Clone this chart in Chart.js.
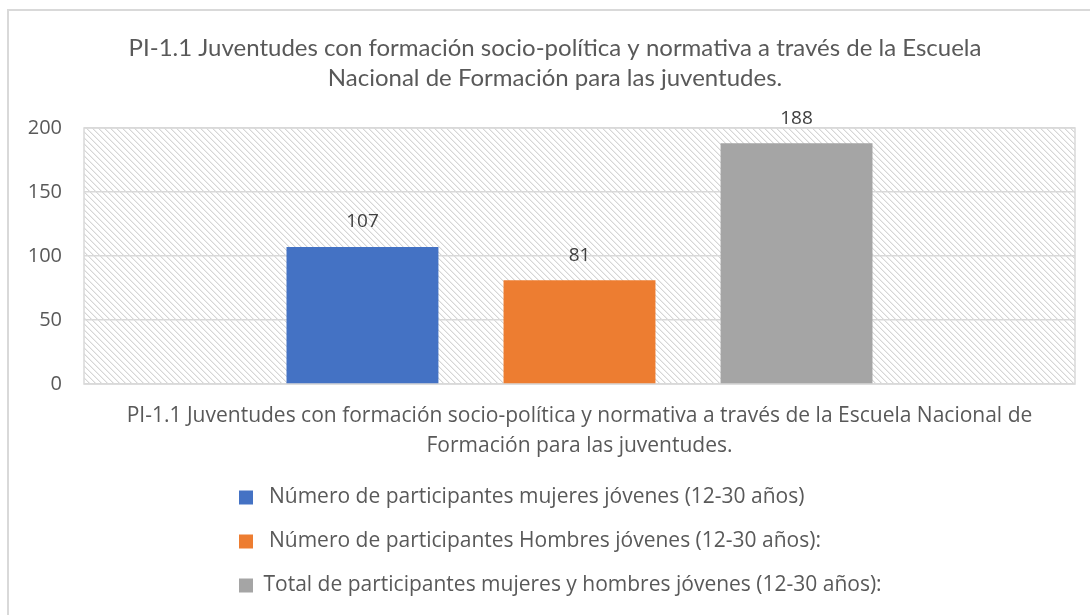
<!DOCTYPE html>
<html>
<head>
<meta charset="utf-8">
<script src="https://cdn.jsdelivr.net/npm/chart.js@4/dist/chart.umd.min.js"></script>
<style>
  html, body { margin: 0; padding: 0; background: #ffffff; overflow: hidden; }
  #frame { position: absolute; left: 7px; top: 9px; width: 1200px; height: 700px;
           border-left: 2px solid #d9d9d9; border-top: 2px solid #d9d9d9; }
  #wrap { position: absolute; left: 0; top: 0; width: 1110px; height: 615px; }
</style>
</head>
<body>
<div id="frame"></div>
<div id="wrap"><canvas id="myChart" width="1110" height="615"></canvas></div>
<script>
// chart data
var titleLines = ["PI-1.1 Juventudes con formación socio-política y normativa a través de la Escuela",
                  "Nacional de Formación para las juventudes."];
var categories = [["PI-1.1 Juventudes con formación socio-política y normativa a través de la Escuela Nacional de",
                   "Formación para las juventudes."]];
var seriesNames = [" Número de participantes mujeres jóvenes (12-30 años)",
                   " Número de participantes Hombres jóvenes (12-30 años):",
                   "Total de participantes mujeres y hombres jóvenes (12-30 años):"];
var mujeres = [107];
var hombres = [81];
var total = [188];
var yTicks = [0, 50, 100, 150, 200];

var colors = ["#4472C4", "#ED7D31", "#A5A5A5"];

//diagonal hatch used behind the bars
function makeHatch(ctx){
    var tile = document.createElement("canvas");
    tile.width = 6;
    tile.height = 6;
    var t = tile.getContext("2d");
    t.fillStyle = "#ffffff";
    t.fillRect(0, 0, 6, 6);
    for(i = 0; i < 6; i++){
        t.fillStyle = "#d6d6d6";
        t.fillRect(i, i, 1, 1);
        t.fillStyle = "#eeeeee";
        t.fillRect((i + 1) % 6, i, 1, 1);
    }
    return ctx.createPattern(tile, "repeat");
}

//plot background, frame and value labels
const plotDeco = {
    id: "plotDeco",
    afterLayout(chart){
        // title centred on the outer frame, legend rows start at the left like the original
        chart.titleBlock.left = 35;
        chart.legend.left = 216;
    },
    beforeDraw(chart){
        const a = chart.chartArea;
        const ctx = chart.ctx;
        ctx.save();
        ctx.fillStyle = makeHatch(ctx);
        ctx.fillRect(a.left, a.top, a.right - a.left, a.bottom - a.top);
        ctx.restore();
    },
    beforeDatasetsDraw(chart){
        const a = chart.chartArea;
        const ctx = chart.ctx;
        ctx.save();
        ctx.strokeStyle = "#d9d9d9";
        ctx.lineWidth = 1.5;
        ctx.strokeRect(a.left, a.top, a.right - a.left, a.bottom - a.top);
        ctx.restore();
    },
    afterDatasetsDraw(chart){
        const ctx = chart.ctx;
        ctx.save();
        ctx.font = "19px 'Open Sans'";
        ctx.fillStyle = "#404040";
        ctx.textAlign = "center";
        ctx.textBaseline = "middle";
        chart.data.datasets.forEach((ds, i) => {
            const meta = chart.getDatasetMeta(i);
            meta.data.forEach((bar, j) => {
                ctx.fillText(ds.data[j], bar.x, bar.y - 25);
            });
        });
        ctx.restore();
    }
};

const chartData = {
    labels: categories,
    datasets: [{
        label: seriesNames[0],
        data: mujeres,
        backgroundColor: colors[0]
    },
    {
        label: seriesNames[1],
        data: hombres,
        backgroundColor: colors[1]
    },
    {
        label: seriesNames[2],
        data: total,
        backgroundColor: colors[2]
    }]
};

const config = {
    type: "bar",
    data: chartData,
    plugins: [plotDeco],
    options: {
        responsive: false,
        animation: false,
        categoryPercentage: 0.657,
        barPercentage: 0.70,
        layout: { padding: { left: 0, right: 35, top: 0, bottom: 9 } },
        plugins: {
            title: {
                display: true,
                text: titleLines,
                color: "#595959",
                font: { family: "Lato", size: 24, weight: "normal", lineHeight: 30 / 24 },
                padding: { top: 33, bottom: 35 }
            },
            legend: {
                display: true,
                position: "bottom",
                align: "start",
                labels: {
                    color: "#595959",
                    font: { family: "Open Sans", size: 21 },
                    boxWidth: 14,
                    boxHeight: 14,
                    padding: 23
                }
            },
            tooltip: { enabled: false }
        },
        scales: {
            x: {
                afterFit: function(scale){ scale.height = 80; },
                grid: { display: false, drawTicks: false },
                border: { display: false },
                ticks: {
                    color: "#595959",
                    font: { family: "Open Sans", size: 21, lineHeight: 30 / 21 },
                    padding: 17,
                    maxRotation: 0,
                    minRotation: 0,
                    autoSkip: false
                }
            },
            y: {
                min: yTicks[0],
                max: yTicks[yTicks.length - 1],
                afterFit: function(scale){ scale.width = 84; },
                afterBuildTicks: function(scale){
                    scale.ticks = yTicks.map(v => ({ value: v }));
                },
                grid: { color: "#d9d9d9", lineWidth: 1.5, drawTicks: false },
                border: { display: false },
                ticks: {
                    color: "#595959",
                    font: { family: "Open Sans", size: 20 },
                    padding: 22
                }
            }
        }
    }
};

myChart = new Chart(
    document.getElementById("myChart"),
    config
);
</script>
</body>
</html>
